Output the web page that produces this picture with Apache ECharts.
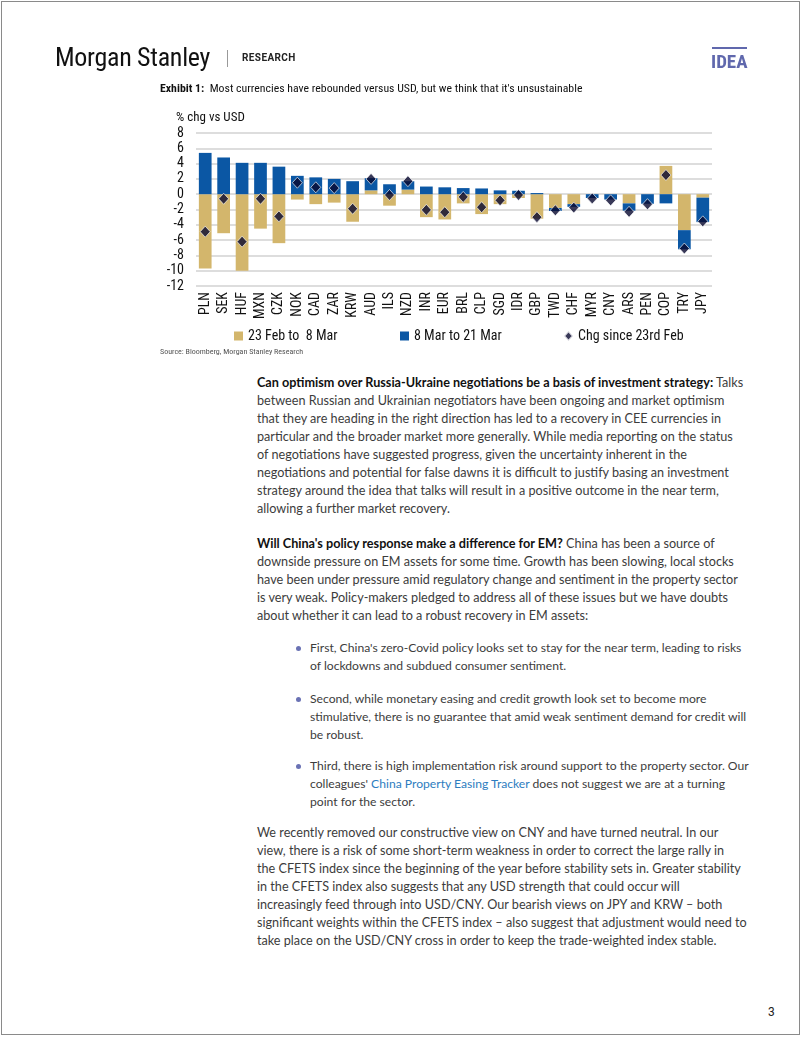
<!DOCTYPE html>
<html>
<head>
<meta charset="utf-8">
<script src="https://cdn.jsdelivr.net/npm/echarts@6/dist/echarts.min.js"></script>
<style>
  html, body { margin:0; padding:0; background:#fff; }
  body { width:802px; height:1037px; position:relative; overflow:hidden; }
  #frame { position:absolute; left:1px; top:1px; width:799px; height:1034px; border:1px solid #8a8a8a; box-sizing:border-box; }
  #chart { position:absolute; left:0; top:0; width:802px; height:370px; }
  .abs { position:absolute; white-space:nowrap; }
  .narrow { font-family:'Liberation Sans Narrow','Roboto Condensed','Roboto',sans-serif; }
  .body { font-family:'Lato','Noto Sans',sans-serif; font-size:12.65px; line-height:18px; color:#3c3c3c; }
  .bul { font-size:12.15px; }
  .body b { color:#111; font-weight:700; }
  .dot { position:absolute; width:5px; height:5px; border-radius:50%; background:#6a72b4; }
  a { color:#2d7dc0; text-decoration:none; }
</style>
</head>
<body>
<div id="frame"></div>
<div id="chart"></div>

<div class="abs narrow" style="left:55px;top:42px;font-size:26px;color:#111;letter-spacing:-0.3px;">Morgan Stanley</div>
<div class="abs" style="left:227px;top:50px;width:1px;height:17px;background:#999;"></div>
<div class="abs" style="left:242px;top:52px;font-family:'Roboto',sans-serif;font-weight:700;font-size:10px;letter-spacing:0.4px;color:#222;">RESEARCH</div>
<div class="abs" style="left:712px;top:47px;width:35px;height:2px;background:#6068ad;"></div>
<div class="abs narrow" style="left:711px;top:50px;font-size:19px;font-weight:700;color:#6068ad;">IDEA</div>

<div class="abs narrow" style="left:160px;top:81px;font-size:11.8px;color:#111;"><b>Exhibit 1:</b>&nbsp; Most currencies have rebounded versus USD, but we think that it's unsustainable</div>
<div class="abs narrow" style="left:160px;top:347px;font-size:8px;color:#555;">Source: Bloomberg, Morgan Stanley Research</div>

<div class="abs body" style="left:257px;top:374px;">
<b>Can optimism over Russia-Ukraine negotiations be a basis of investment strategy:</b> Talks<br>
between Russian and Ukrainian negotiators have been ongoing and market optimism<br>
that they are heading in the right direction has led to a recovery in CEE currencies in<br>
particular and the broader market more generally. While media reporting on the status<br>
of negotiations have suggested progress, given the uncertainty inherent in the<br>
negotiations and potential for false dawns it is difficult to justify basing an investment<br>
strategy around the idea that talks will result in a positive outcome in the near term,<br>
allowing a further market recovery.
</div>

<div class="abs body" style="left:257px;top:535px;">
<b>Will China's policy response make a difference for EM?</b> China has been a source of<br>
downside pressure on EM assets for some time. Growth has been slowing, local stocks<br>
have been under pressure amid regulatory change and sentiment in the property sector<br>
is very weak. Policy-makers pledged to address all of these issues but we have doubts<br>
about whether it can lead to a robust recovery in EM assets:
</div>

<div class="dot" style="left:296px;top:646px;"></div>
<div class="abs body bul" style="left:310px;top:639px;">
First, China's zero-Covid policy looks set to stay for the near term, leading to risks<br>
of lockdowns and subdued consumer sentiment.
</div>

<div class="dot" style="left:296px;top:697px;"></div>
<div class="abs body bul" style="left:310px;top:690px;">
Second, while monetary easing and credit growth look set to become more<br>
stimulative, there is no guarantee that amid weak sentiment demand for credit will<br>
be robust.
</div>

<div class="dot" style="left:296px;top:764px;"></div>
<div class="abs body bul" style="left:310px;top:757px;">
Third, there is high implementation risk around support to the property sector. Our<br>
colleagues' <a>China Property Easing Tracker</a> does not suggest we are at a turning<br>
point for the sector.
</div>

<div class="abs body" style="left:257px;top:824px;">
We recently removed our constructive view on CNY and have turned neutral. In our<br>
view, there is a risk of some short-term weakness in order to correct the large rally in<br>
the CFETS index since the beginning of the year before stability sets in. Greater stability<br>
in the CFETS index also suggests that any USD strength that could occur will<br>
increasingly feed through into USD/CNY. Our bearish views on JPY and KRW – both<br>
significant weights within the CFETS index – also suggest that adjustment would need to<br>
take place on the USD/CNY cross in order to keep the trade-weighted index stable.
</div>

<div class="abs" style="left:768px;top:1005px;font-family:'Roboto',sans-serif;font-size:12px;color:#222;">3</div>

<script>
const categories = ['PLN','SEK','HUF','MXN','CZK','NOK','CAD','ZAR','KRW','AUD','ILS','NZD','INR','EUR','BRL','CLP','SGD','IDR','GBP','TWD','CHF','MYR','CNY','ARS','PEN','COP','TRY','JPY'];
const feb23ToMar8 = [-9.7,-5.1,-10.0,-4.5,-6.4,-0.7,-1.3,-1.1,-3.6,0.5,-1.5,0.6,-3.0,-3.3,-1.2,-2.6,-1.3,-0.5,-3.2,-1.8,-1.3,0,0,-1.2,0,3.7,-4.7,-0.45];
const mar8ToMar21 = [5.4,4.8,4.1,4.1,3.6,2.4,2.2,2.0,1.7,1.6,1.3,1.1,1.0,0.9,0.8,0.75,0.5,0.45,0.15,-0.4,-0.35,-0.5,-0.7,-0.95,-1.25,-1.2,-2.5,-3.2];
const chgSince23Feb = [-4.9,-0.6,-6.2,-0.6,-2.9,1.5,0.9,0.8,-1.9,2.0,-0.1,1.7,-2.05,-2.35,-0.35,-1.7,-0.8,-0.1,-3.0,-2.1,-1.75,-0.55,-0.8,-2.3,-1.3,2.5,-7.1,-3.55];
const yTitle = '% chg vs USD';
const names = ['23 Feb to  8 Mar','8 Mar to 21 Mar','Chg since 23rd Feb'];

const GOLD = '#d3b66c', BLUE = '#0b57a4', NAVY = '#08082e';
const FONT = "'Liberation Sans Narrow','Roboto Condensed',Roboto,sans-serif";

const chart = echarts.init(document.getElementById('chart'), null, {renderer:'canvas'});
chart.setOption({
  animation:false,
  textStyle:{fontFamily:FONT},
  grid:{left:196, right:90, top:133, bottom:84, containLabel:false},
  title:{text:yTitle, left:171, top:106, textStyle:{fontFamily:FONT, fontSize:13, fontWeight:'normal', color:'#111'}},
  legend:[
    {data:[names[0]], left:234, top:329, padding:0, itemWidth:9, itemHeight:9, icon:'rect', textStyle:{fontFamily:FONT,fontSize:14,color:'#111'}},
    {data:[names[1]], left:400, top:329, padding:0, itemWidth:9, itemHeight:9, icon:'rect', textStyle:{fontFamily:FONT,fontSize:14,color:'#111'}},
    {data:[names[2]], left:563, top:329, padding:0, itemWidth:9, itemHeight:10, icon:'diamond', textStyle:{fontFamily:FONT,fontSize:14,color:'#111'}}
  ],
  xAxis:{type:'category', data:categories, axisLine:{show:false}, axisTick:{show:false},
    axisLabel:{rotate:90, margin:6, fontFamily:FONT, fontSize:14, color:'#111', interval:0}},
  yAxis:{type:'value', min:-12, max:8, interval:2,
    axisLabel:{fontFamily:FONT, fontSize:14, color:'#111', margin:12},
    splitLine:{lineStyle:{color:'#d2d2d2', width:1.5}}},
  series:[
    {name:names[0], type:'bar', stack:'s', data:feb23ToMar8, barWidth:'69%', itemStyle:{color:GOLD}},
    {name:names[1], type:'bar', stack:'s', data:mar8ToMar21, barWidth:'69%', itemStyle:{color:BLUE}},
    {name:names[2], type:'scatter', data:chgSince23Feb, symbol:'diamond', symbolSize:[10,11], z:5,
      itemStyle:{color:NAVY, borderColor:'#ffffff', borderWidth:0.8}}
  ]
});
</script>
</body>
</html>
